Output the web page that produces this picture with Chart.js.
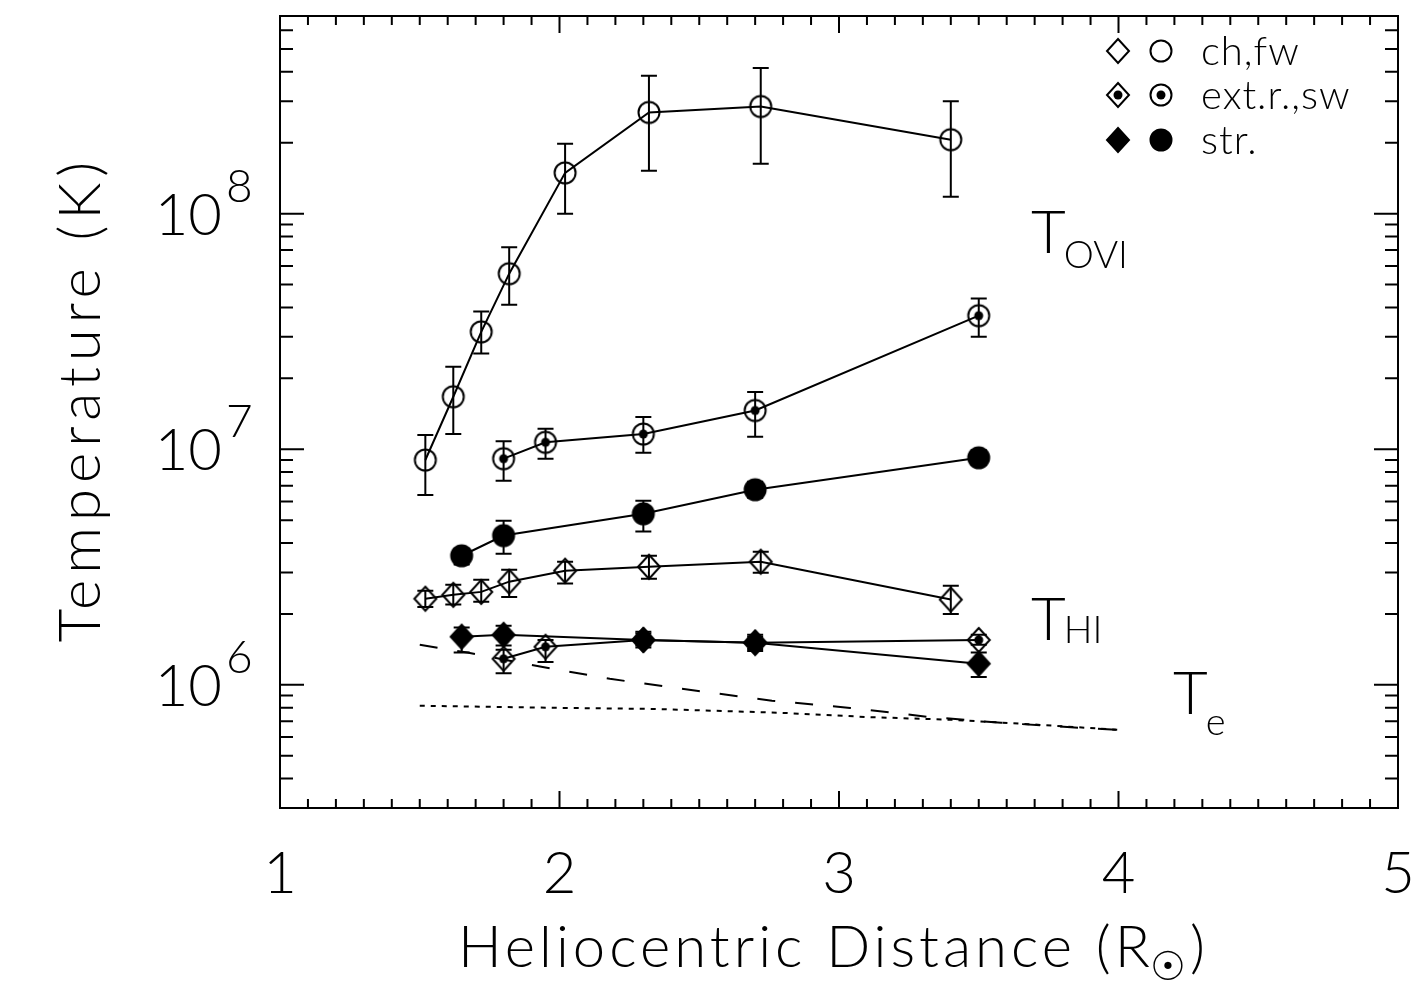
<!DOCTYPE html>
<html>
<head>
<meta charset="utf-8">
<script src="https://cdn.jsdelivr.net/npm/chart.js@4.4.0/dist/chart.umd.min.js"></script>
<style>
  html, body { margin: 0; padding: 0; background: #fff; }
  canvas { display: block; }
</style>
</head>
<body>
<canvas id="chart" width="1415" height="986"></canvas>
<script>
// ---- data ----
// OVI, coronal hole / fast wind
const chX       = [1.52, 1.62, 1.72, 1.82, 2.02, 2.32, 2.72, 3.40];
const oviCh     = [9.0e6, 1.67e7, 3.15e7, 5.56e7, 1.49e8, 2.69e8, 2.85e8, 2.06e8];
const oviChLo   = [6.4e6, 1.16e7, 2.55e7, 4.1e7, 1.0e8, 1.52e8, 1.63e8, 1.18e8];
const oviChHi   = [1.15e7, 2.24e7, 3.84e7, 7.2e7, 1.98e8, 3.85e8, 4.15e8, 3.0e8];
// OVI, extended region / slow wind
const extX      = [1.80, 1.95, 2.30, 2.70, 3.50];
const oviExt    = [9.12e6, 1.07e7, 1.16e7, 1.46e7, 3.69e7];
const oviExtLo  = [7.35e6, 9.12e6, 9.66e6, 1.13e7, 3.0e7];
const oviExtHi  = [1.08e7, 1.22e7, 1.37e7, 1.75e7, 4.36e7];
// OVI, streamer
const strX      = [1.65, 1.80, 2.30, 2.70, 3.50];
const oviStr    = [3.53e6, 4.30e6, 5.32e6, 6.73e6, 9.2e6];
const oviStrLo  = [3.24e6, 3.60e6, 4.47e6, 6.22e6, 8.6e6];
const oviStrHi  = [3.78e6, 4.97e6, 6.04e6, 7.28e6, 9.9e6];
// HI, coronal hole
const hiCh      = [2.32e6, 2.41e6, 2.48e6, 2.74e6, 3.05e6, 3.17e6, 3.33e6, 2.30e6];
const hiChLo    = [2.14e6, 2.19e6, 2.25e6, 2.36e6, 2.69e6, 2.82e6, 2.99e6, 2.00e6];
const hiChHi    = [2.51e6, 2.66e6, 2.79e6, 3.08e6, 3.33e6, 3.53e6, 3.67e6, 2.63e6];
// HI, extended region
const hiExt     = [1.29e6, 1.45e6, 1.55e6, 1.51e6, 1.55e6];
const hiExtLo   = [1.12e6, 1.25e6, 1.47e6, 1.42e6, 1.48e6];
const hiExtHi   = [1.41e6, 1.55e6, 1.65e6, 1.60e6, 1.63e6];
// HI, streamer
const hiStr     = [1.60e6, 1.63e6, 1.55e6, 1.51e6, 1.23e6];
const hiStrLo   = [1.37e6, 1.47e6, 1.44e6, 1.39e6, 1.08e6];
const hiStrHi   = [1.75e6, 1.78e6, 1.68e6, 1.63e6, 1.37e6];
// electron temperature models
const teDashX   = [1.50, 1.67, 1.94, 2.18, 2.49, 2.76, 3.04, 3.32, 3.58, 3.86, 4.00];
const teDash    = [1.48e6, 1.37e6, 1.19e6, 1.06e6, 9.44e5, 8.56e5, 7.98e5, 7.31e5, 6.90e5, 6.57e5, 6.44e5];
const teDotX    = [1.50, 2.00, 2.34, 2.80, 3.10, 3.41, 3.72, 4.00];
const teDot     = [8.15e5, 7.98e5, 7.90e5, 7.60e5, 7.30e5, 7.10e5, 6.76e5, 6.44e5];

const xTickLabels  = ['1', '2', '3', '4', '5'];
const yTickExps    = [6, 7, 8];
const legendLabels = ['ch,fw', 'ext.r.,sw', 'str.'];

const FONT = "Lato, 'DejaVu Sans', sans-serif";

const pts = (xs, ys) => xs.map((x, i) => ({x: x, y: ys[i]}));

function makeMarker(shape, mode) {
  const c = document.createElement('canvas');
  c.width = 26; c.height = 28;
  const g = c.getContext('2d');
  g.lineWidth = 2; g.strokeStyle = '#000'; g.fillStyle = '#000';
  g.beginPath();
  if (shape === 'circle') {
    g.arc(13, 14, 10.5, 0, Math.PI * 2);
  } else {
    g.moveTo(13, 2); g.lineTo(24, 14); g.lineTo(13, 26); g.lineTo(2, 14); g.closePath();
  }
  if (mode === 'fill') g.fill();
  g.stroke();
  if (mode === 'dot') {
    g.beginPath(); g.arc(13, 14, 4.5, 0, Math.PI * 2); g.fill();
  }
  return c;
}

const mk = {
  circOpen: makeMarker('circle', 'open'),
  circDot:  makeMarker('circle', 'dot'),
  circFill: makeMarker('circle', 'fill'),
  diaOpen:  makeMarker('diamond', 'open'),
  diaDot:   makeMarker('diamond', 'dot'),
  diaFill:  makeMarker('diamond', 'fill')
};

const series = (xs, ys, lo, hi, marker) => ({
  data: pts(xs, ys), errLo: lo, errHi: hi,
  borderColor: '#000', borderWidth: 2, pointStyle: marker,
  pointRadius: 12, showLine: true, tension: 0
});

// vertical error bars with caps
const errorBars = {
  id: 'errorBars',
  afterDatasetsDraw(chart) {
    const {ctx, scales: {x, y}} = chart;
    ctx.save();
    ctx.strokeStyle = '#000'; ctx.lineWidth = 2;
    chart.data.datasets.forEach(ds => {
      if (!ds.errLo) return;
      ds.data.forEach((p, i) => {
        const px = x.getPixelForValue(p.x);
        const y1 = y.getPixelForValue(ds.errLo[i]);
        const y2 = y.getPixelForValue(ds.errHi[i]);
        ctx.beginPath();
        ctx.moveTo(px, y1); ctx.lineTo(px, y2);
        ctx.moveTo(px - 8, y1); ctx.lineTo(px + 8, y1);
        ctx.moveTo(px - 8, y2); ctx.lineTo(px + 8, y2);
        ctx.stroke();
      });
    });
    ctx.restore();
  }
};

// frame, inward ticks, labels, titles, legend and curve names
const decor = {
  id: 'decor',
  afterDraw(chart) {
    const {ctx, chartArea: a, scales: {x, y}} = chart;
    ctx.save();
    ctx.strokeStyle = '#000'; ctx.fillStyle = '#000';
    ctx.lineWidth = 2;
    ctx.strokeRect(a.left, a.top, a.right - a.left, a.bottom - a.top);

    ctx.beginPath();
    for (let i = 0; i <= 40; i++) {
      const px = x.getPixelForValue(1 + i * 0.1);
      const len = i % 10 === 0 ? 17 : 9;
      ctx.moveTo(px, a.bottom); ctx.lineTo(px, a.bottom - len);
      ctx.moveTo(px, a.top); ctx.lineTo(px, a.top + len);
    }
    for (let e = 5; e <= 8; e++) {
      for (let m = 1; m <= 9; m++) {
        const v = m * Math.pow(10, e);
        if (v < y.min || v > y.max) continue;
        const py = y.getPixelForValue(v);
        const len = m === 1 ? 24 : 13;
        ctx.moveTo(a.left, py); ctx.lineTo(a.left + len, py);
        ctx.moveTo(a.right, py); ctx.lineTo(a.right - len, py);
      }
    }
    ctx.stroke();

    // tick labels
    ctx.textBaseline = 'alphabetic';
    ctx.textAlign = 'center';
    ctx.font = '300 58px ' + FONT;
    xTickLabels.forEach(t => {
      ctx.fillText(t, x.getPixelForValue(Number(t)), 893);
    });
    yTickExps.forEach(e => {
      const py = y.getPixelForValue(Math.pow(10, e));
      ctx.textAlign = 'right';
      ctx.font = '300 58px ' + FONT;
      ctx.fillText('10', 222, py + 21);
      ctx.textAlign = 'left';
      ctx.font = '300 46px ' + FONT;
      ctx.fillText(String(e), 226, py - 12);
    });

    // axis titles
    ctx.textAlign = 'left';
    ctx.font = '300 58px ' + FONT;
    ctx.letterSpacing = '4px';
    const t1 = 'Heliocentric Distance (R';
    ctx.fillText(t1, 458, 967);
    let cx = 458 + ctx.measureText(t1).width - 4;
    ctx.font = '300 40px ' + FONT;
    ctx.fillText('☉', cx, 980);
    cx += ctx.measureText('☉').width;
    ctx.font = '300 58px ' + FONT;
    ctx.fillText(')', cx, 967);

    ctx.save();
    ctx.translate(100, 402);
    ctx.rotate(-Math.PI / 2);
    ctx.textAlign = 'center';
    ctx.letterSpacing = '6px';
    ctx.fillText('Temperature (K)', 3, 0);
    ctx.restore();
    ctx.letterSpacing = '0px';

    // curve names
    const label = (main, sub, lx, by, subBy) => {
      ctx.textAlign = 'left';
      ctx.font = '300 60px ' + FONT;
      ctx.fillText(main, lx, by);
      const w = ctx.measureText(main).width;
      ctx.font = '300 38px ' + FONT;
      ctx.fillText(sub, lx + w - 2, subBy);
    };
    label('T', 'OVI', 1031, 253, 268);
    label('T', 'HI', 1031, 640, 643);
    label('T', 'e', 1173, 714, 735);

    // legend
    const rows = [[mk.diaOpen, mk.circOpen], [mk.diaDot, mk.circDot], [mk.diaFill, mk.circFill]];
    ctx.font = '300 40px ' + FONT;
    ctx.letterSpacing = '1px';
    ctx.textBaseline = 'middle';
    legendLabels.forEach((t, i) => {
      const ly = [51, 95, 140][i];
      const [d, c] = rows[i];
      ctx.drawImage(d, 1118 - d.width / 2, ly - d.height / 2);
      ctx.drawImage(c, 1161 - c.width / 2, ly - c.height / 2);
      ctx.fillText(t, 1201, ly + 1);
    });
    ctx.letterSpacing = '0px';
    ctx.restore();
  }
};

new Chart(document.getElementById('chart'), {
  type: 'line',
  data: {
    datasets: [
      series(chX,  oviCh,  oviChLo,  oviChHi,  mk.circOpen),
      series(extX, oviExt, oviExtLo, oviExtHi, mk.circDot),
      series(strX, oviStr, oviStrLo, oviStrHi, mk.circFill),
      series(chX,  hiCh,   hiChLo,   hiChHi,   mk.diaOpen),
      series(extX, hiExt,  hiExtLo,  hiExtHi,  mk.diaDot),
      series(strX, hiStr,  hiStrLo,  hiStrHi,  mk.diaFill),
      {data: pts(teDashX, teDash), borderColor: '#000', borderWidth: 2, borderDash: [18, 20], pointRadius: 0, tension: 0},
      {data: pts(teDotX, teDot), borderColor: '#000', borderWidth: 2, borderDash: [5, 6], pointRadius: 0, tension: 0}
    ]
  },
  options: {
    responsive: false,
    animation: false,
    devicePixelRatio: 1,
    layout: {padding: {top: 16, right: 17, left: 0, bottom: 0}},
    plugins: {legend: {display: false}, tooltip: {enabled: false}},
    scales: {
      x: {
        type: 'linear', min: 1, max: 5,
        grid: {display: false}, border: {display: false}, ticks: {display: false},
        afterFit: s => { s.height = 178; }
      },
      y: {
        type: 'logarithmic', min: 3.0e5, max: 6.9e8,
        grid: {display: false}, border: {display: false}, ticks: {display: false},
        afterFit: s => { s.width = 280; }
      }
    }
  },
  plugins: [errorBars, decor]
});
</script>
</body>
</html>
